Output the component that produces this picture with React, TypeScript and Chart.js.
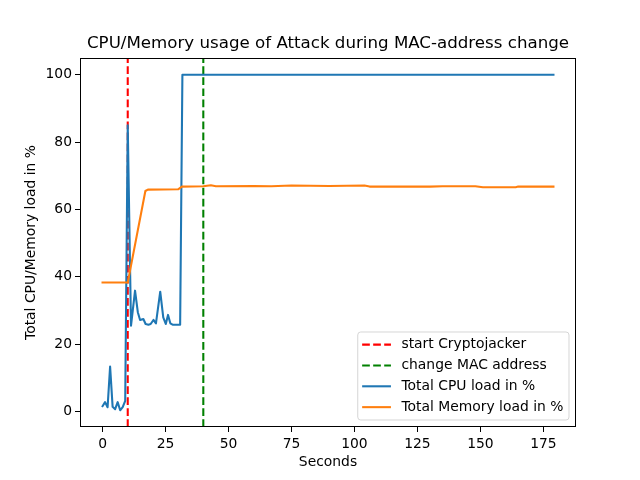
import React, { useEffect, useRef } from "react";
import { Chart, registerables } from "chart.js";

Chart.register(...registerables);

const chartTitle = "CPU/Memory usage of Attack during MAC-address change";
const xAxisLabel = "Seconds";
const yAxisLabel = "Total CPU/Memory load in %";
const xTicks = [0, 25, 50, 75, 100, 125, 150, 175];
const yTicks = [0, 20, 40, 60, 80, 100];
const xMin = -8.95;
const xMax = 187.95;
const yMin = -4.58;
const yMax = 104.98;

const cryptoStartSecond = 10;
const macChangeSecond = 40;

const cpuSeconds = [0, 1, 2, 3, 4, 5, 6, 7, 8, 9, 10, 11.3, 12.9, 14, 14.9, 16.2, 17.1, 18.2, 19.1, 20.2, 21.2, 22.9, 24.1, 25.1, 26, 26.9, 27.8, 29.8, 30.8, 31.7, 179];
const cpuLoad = [1.6, 2.8, 1.3, 13.4, 1.4, 0.7, 2.8, 0.4, 1.3, 3.2, 85, 25.5, 35.9, 29.5, 27.2, 27.5, 26, 25.8, 26, 27.2, 26.2, 35.6, 28, 26, 28.7, 26.2, 25.8, 25.8, 25.8, 100, 100];

const memSeconds = [0, 10, 17, 18, 30, 31.5, 40, 43, 45, 60, 67, 75, 90, 104, 106, 130, 135, 148, 151, 164, 165, 179];
const memLoad = [38.3, 38.3, 65.5, 65.9, 66.0, 66.8, 66.9, 67.2, 66.9, 67.0, 66.9, 67.1, 67.0, 67.1, 66.8, 66.8, 66.9, 66.9, 66.6, 66.6, 66.8, 66.8];

const seriesLabels = ["start Cryptojacker", "change MAC address", "Total CPU load in %", "Total Memory load in %"];

const FONT = "DejaVu Sans";

const framePlugin = {
  id: "frameBox",
  afterDatasetsDraw(chart: any) {
    const { ctx, chartArea } = chart;
    ctx.save();
    ctx.strokeStyle = "#000";
    ctx.lineWidth = 1;
    const l = Math.round(chartArea.left) + 0.5;
    const t = Math.round(chartArea.top) + 0.5;
    const r = Math.round(chartArea.right) - 0.5;
    const b = Math.round(chartArea.bottom) - 0.5;
    ctx.strokeRect(l, t, r - l, b - t);
    ctx.restore();
  },
};

const legendPlugin = {
  id: "boxLegend",
  afterDraw(chart: any) {
    const { ctx, chartArea } = chart;
    const fs = 13.89;
    ctx.save();
    ctx.font = `${fs}px "${FONT}"`;
    const datasets = chart.data.datasets;
    let maxW = 0;
    datasets.forEach((ds: any) => {
      maxW = Math.max(maxW, ctx.measureText(ds.label).width);
    });
    const w = 43.7 + maxW + 5.6;
    const h = 88;
    const right = chartArea.right - 7;
    const bottom = chartArea.bottom - 7;
    const left = right - w;
    const top = bottom - h;
    ctx.beginPath();
    (ctx as any).roundRect(left, top, w, h, 3);
    ctx.fillStyle = "rgba(255,255,255,0.8)";
    ctx.fill();
    ctx.strokeStyle = "rgba(204,204,204,0.8)";
    ctx.lineWidth = 1;
    ctx.stroke();
    datasets.forEach((ds: any, i: number) => {
      const cy = top + 12.6 + i * 20.85;
      ctx.beginPath();
      ctx.setLineDash(ds.borderDash || []);
      ctx.strokeStyle = ds.borderColor;
      ctx.lineWidth = ds.borderWidth;
      ctx.lineCap = "butt";
      ctx.moveTo(left + 4.4, cy);
      ctx.lineTo(left + 33.2, cy);
      ctx.stroke();
      ctx.setLineDash([]);
      ctx.fillStyle = "#000";
      ctx.textBaseline = "middle";
      ctx.textAlign = "left";
      ctx.fillText(ds.label, left + 43.7, cy);
    });
    ctx.restore();
  },
};

export default function App() {
  const canvasRef = useRef<HTMLCanvasElement | null>(null);

  useEffect(() => {
    if (!canvasRef.current) return;
    Chart.defaults.font.family = FONT;
    const dash = [7.7, 3.33];
    const chart = new Chart(canvasRef.current, {
      type: "line",
      data: {
        datasets: [
          {
            label: seriesLabels[0],
            data: [
              { x: cryptoStartSecond, y: yMin },
              { x: cryptoStartSecond, y: yMax },
            ],
            borderColor: "#ff0000",
            borderWidth: 2.08,
            borderDash: dash,
            pointRadius: 0,
            order: 3,
          },
          {
            label: seriesLabels[1],
            data: [
              { x: macChangeSecond, y: yMin },
              { x: macChangeSecond, y: yMax },
            ],
            borderColor: "#008000",
            borderWidth: 2.08,
            borderDash: dash,
            pointRadius: 0,
            order: 2,
          },
          {
            label: seriesLabels[2],
            data: cpuSeconds.map((x, i) => ({ x, y: cpuLoad[i] })),
            borderColor: "#1f77b4",
            borderWidth: 2.08,
            borderCapStyle: "square",
            borderJoinStyle: "round",
            pointRadius: 0,
            tension: 0,
            order: 1,
          },
          {
            label: seriesLabels[3],
            data: memSeconds.map((x, i) => ({ x, y: memLoad[i] })),
            borderColor: "#ff7f0e",
            borderWidth: 2.08,
            borderCapStyle: "square",
            borderJoinStyle: "round",
            pointRadius: 0,
            tension: 0,
            order: 0,
          },
        ] as any,
      },
      options: {
        animation: false,
        responsive: false,
        devicePixelRatio: 1,
        layout: { padding: { left: 16, right: 0, top: 0, bottom: 0 } },
        plugins: {
          legend: { display: false },
          tooltip: { enabled: false },
          title: {
            display: true,
            text: chartTitle,
            color: "#000",
            font: { family: FONT, size: 16.67, weight: "normal" as any, lineHeight: 1.2 },
            padding: { top: 34, bottom: 4 },
          },
        },
        scales: {
          x: {
            type: "linear",
            min: xMin,
            max: xMax,
            afterBuildTicks: (s: any) => {
              s.ticks = xTicks.map((v) => ({ value: v }));
            },
            afterFit: (s: any) => {
              s.height = 53;
            },
            ticks: {
              color: "#000",
              font: { family: FONT, size: 13.89 },
              padding: 4,
              maxRotation: 0,
              autoSkip: false,
              callback: (v: any) => String(v),
            },
            grid: {
              display: true,
              drawOnChartArea: false,
              drawTicks: true,
              tickLength: 5,
              color: "#000",
              lineWidth: 1,
            },
            border: { display: false },
            title: {
              display: true,
              text: xAxisLabel,
              color: "#000",
              font: { family: FONT, size: 13.89 },
              padding: { top: 0, bottom: 9 },
            },
          },
          y: {
            type: "linear",
            min: yMin,
            max: yMax,
            afterBuildTicks: (s: any) => {
              s.ticks = yTicks.map((v) => ({ value: v }));
            },
            afterFit: (s: any) => {
              s.width = 64;
            },
            ticks: {
              color: "#000",
              font: { family: FONT, size: 13.89 },
              padding: 3,
              autoSkip: false,
              callback: (v: any) => String(v),
            },
            grid: {
              display: true,
              drawOnChartArea: false,
              drawTicks: true,
              tickLength: 5,
              color: "#000",
              lineWidth: 1,
            },
            border: { display: false },
            title: {
              display: true,
              text: yAxisLabel,
              color: "#000",
              font: { family: FONT, size: 13.89 },
              padding: { top: 6.7, bottom: 0 },
            },
          },
          yRight: {
            type: "linear",
            position: "right",
            display: true,
            afterFit: (s: any) => {
              s.width = 64;
            },
            ticks: { display: false },
            grid: { display: false },
            border: { display: false },
          },
        } as any,
      },
      plugins: [framePlugin, legendPlugin],
    });
    return () => chart.destroy();
  }, []);

  return (
    <div style={{ position: "fixed", left: 0, top: 0, width: 640, height: 480, background: "#fff" }}>
      <canvas ref={canvasRef} width={640} height={480} style={{ width: 640, height: 480, display: "block" }} />
    </div>
  );
}
